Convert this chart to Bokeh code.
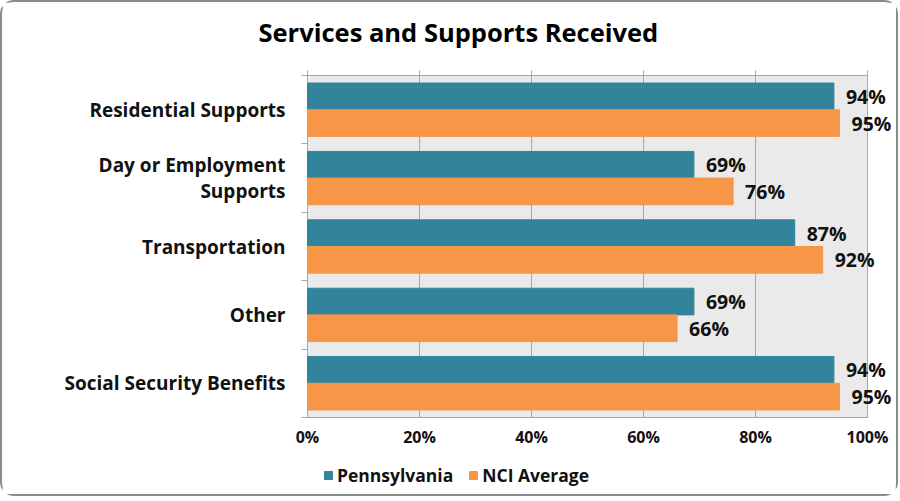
from bokeh.plotting import figure
from bokeh.models import (Range1d, FixedTicker, LinearAxis, ColumnDataSource,
                          Legend, LegendItem)
from bokeh.core.properties import value
from bokeh.embed import file_html
from bokeh.resources import INLINE

title_text = "Services and Supports Received"
categories = ["Residential Supports", "Day or Employment\nSupports", "Transportation",
              "Other", "Social Security Benefits"]
pennsylvania = [94, 69, 87, 69, 94]
nci_average = [95, 76, 92, 66, 95]
series_names = ["Pennsylvania", "NCI Average"]
series_colors = ["#31849B", "#F79646"]
x_ticks = [0, 20, 40, 60, 80, 100]
x_tick_labels = ["0%", "20%", "40%", "60%", "80%", "100%"]

FONT = "Open Sans"
TXT = "#111111"
GRID = "#A6A6A6"
n = len(categories)
idx = list(range(n))
pa_y = [i - 0.195 for i in idx]
nci_y = [i + 0.195 for i in idx]

# ---- pixel layout (canvas pixels) ----
FRAME_L, FRAME_T = 8, 46          # frame left/top inside canvas
FRAME_W, FRAME_H = 885, 446
AREA_L, AREA_T = 305, 73          # plot-area (0%, first category edge)
PX_X = 560 / 100                  # pixels per percent
PX_Y = 342 / n                    # pixels per category
x_start = -(AREA_L - FRAME_L) / PX_X
x_end = x_start + FRAME_W / PX_X
y_top = -0.5 - (AREA_T - FRAME_T) / PX_Y
y_bottom = y_top + FRAME_H / PX_Y

p = figure(frame_width=FRAME_W, frame_height=FRAME_H,
           x_range=Range1d(x_start, x_end), y_range=Range1d(y_bottom, y_top),
           output_backend="svg", toolbar_location=None,
           min_border_left=FRAME_L, min_border_right=1,
           min_border_top=FRAME_T, min_border_bottom=0)
p.styles = {"border": "2px solid #8c8c8c", "border-radius": "14px"}
p.background_fill_color = "white"
p.border_fill_color = "white"
p.outline_line_color = None

# title
p.title.text = title_text
p.title.align = "left"
p.title.offset = 248
p.title.text_font = FONT
p.title.text_font_size = "25.5px"
p.title.text_font_style = "bold"
p.title.text_color = "#000000"
p.title.standoff = 0

# plot area background (0%..100%, all categories)
p.quad(left=x_ticks[0], right=x_ticks[-1], bottom=n - 0.5, top=-0.5,
       fill_color="#EAEAEA", line_color=GRID, level="image")
# vertical grid lines over the category area only
p.segment(x0=x_ticks, x1=x_ticks, y0=[-0.5] * len(x_ticks),
          y1=[n - 0.5] * len(x_ticks), line_color=GRID, line_width=1,
          level="underlay")

src_pa = ColumnDataSource(dict(y=pa_y, v=pennsylvania,
                               t=[f"{v}%" for v in pennsylvania]))
src_nci = ColumnDataSource(dict(y=nci_y, v=nci_average,
                                t=[f"{v}%" for v in nci_average]))

r_pa = p.hbar(y="y", right="v", left=0, height=0.39, source=src_pa,
              fill_color=series_colors[0], line_color=series_colors[0])
r_nci = p.hbar(y="y", right="v", left=0, height=0.39, source=src_nci,
               fill_color=series_colors[1], line_color=series_colors[1])

for src in (src_pa, src_nci):
    p.text(x="v", y="y", text="t", source=src, x_offset=12,
           text_baseline="middle", text_align="left",
           text_font=value(FONT), text_font_size="19.5px",
           text_font_style="bold", text_color=TXT)

# x axis (bottom edge of the category area: labels only)
xa = p.xaxis[0]
xa.fixed_location = n - 0.5
xa.ticker = FixedTicker(ticks=x_ticks)
xa.major_label_overrides = {t: l for t, l in zip(x_ticks, x_tick_labels)}
xa.axis_line_color = None
xa.major_tick_line_color = None
xa.major_tick_out = 0
xa.major_tick_in = 0
xa.minor_tick_line_color = None
xa.major_label_text_font = FONT
xa.major_label_text_font_size = "16px"
xa.major_label_text_font_style = "bold"
xa.major_label_text_color = TXT
xa.major_label_standoff = 8

# top edge: tick marks only (as minor ticks, no labels)
xt = LinearAxis(ticker=FixedTicker(ticks=[], minor_ticks=x_ticks),
                fixed_location=-0.5,
                minor_tick_out=5, minor_tick_in=0, minor_tick_line_color=GRID,
                major_tick_line_color=None, axis_line_color=None)
p.add_layout(xt, "above")

p.xgrid.visible = False
p.ygrid.visible = False

ya = p.yaxis[0]
ya.fixed_location = 0
ya.ticker = FixedTicker(ticks=idx, minor_ticks=[i - 0.5 for i in range(n + 1)])
ya.major_label_overrides = {i: c for i, c in zip(idx, categories)}
ya.major_tick_line_color = None
ya.major_tick_out = 0
ya.minor_tick_out = 6
ya.minor_tick_in = 0
ya.minor_tick_line_color = GRID
ya.axis_line_color = None
ya.major_label_text_font = FONT
ya.major_label_text_font_size = "19px"
ya.major_label_text_font_style = "bold"
ya.major_label_text_color = TXT
ya.major_label_text_line_height = 1.0
ya.major_label_standoff = 16

legend = Legend(items=[LegendItem(label=series_names[0], renderers=[r_pa]),
                       LegendItem(label=series_names[1], renderers=[r_nci])],
                orientation="horizontal", location=(313, 7),
                glyph_width=10, glyph_height=10, label_standoff=4, spacing=15,
                padding=0, margin=0, border_line_color=None,
                background_fill_alpha=0,
                label_text_font=FONT, label_text_font_size="17.5px",
                label_text_font_style="bold", label_text_color=TXT)
p.add_layout(legend)

open("out.html", "w").write(file_html(p, INLINE))
